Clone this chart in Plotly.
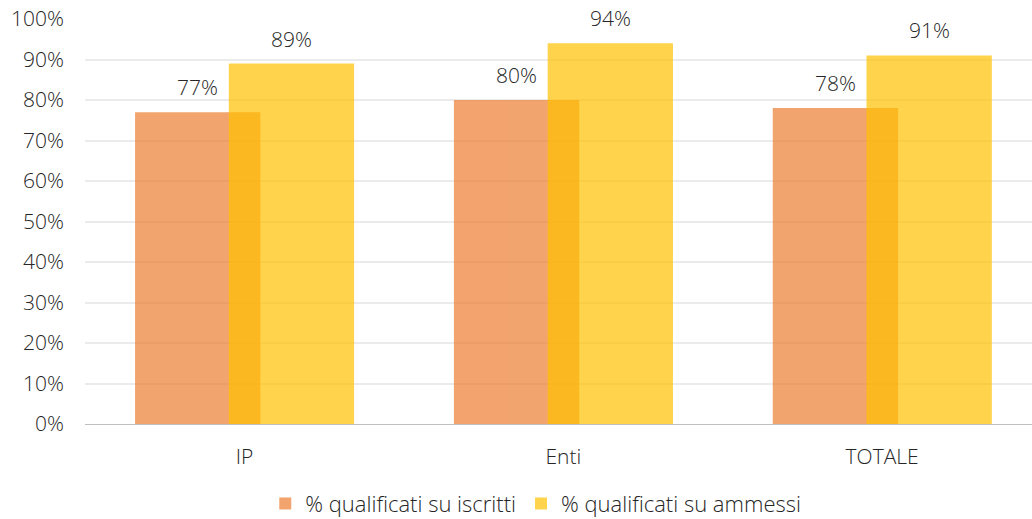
import plotly.graph_objects as go

categories = ["IP", "Enti", "TOTALE"]
iscritti = [77, 80, 78]
ammessi = [89, 94, 91]
series_names = ["% qualificati su iscritti", "% qualificati su ammessi"]
y_ticks = [0, 10, 20, 30, 40, 50, 60, 70, 80, 90, 100]
y_tick_labels = [f"{v}%" for v in y_ticks]

FONT = "'Open Sans', 'Noto Sans', sans-serif"
TXT = "#262626"
W = 0.393
OFFS = [-0.343, -0.049]
PX_PER_CAT = 947 / 2.97

fig = go.Figure()
for vals, name, color, off in [(iscritti, series_names[0], "#ED7D31", OFFS[0]),
                               (ammessi, series_names[1], "#FFC000", OFFS[1])]:
    fig.add_trace(go.Bar(
        x=categories, y=vals, name=name,
        marker=dict(color=color, line=dict(width=0)), opacity=0.7,
        width=W, offset=off,
    ))
    for c, v in zip(categories, vals):
        fig.add_annotation(
            x=c, y=v, xref="x", yref="y", text=f"{v}%", showarrow=False,
            yanchor="bottom", xanchor="center",
            xshift=(off + W / 2) * PX_PER_CAT, yshift=9,
            font=dict(size=21, color=TXT, family=FONT, weight=300),
        )

fig.update_layout(
    width=1032, height=519,
    barmode="overlay",
    paper_bgcolor="white", plot_bgcolor="white",
    margin=dict(l=85, r=0, t=19, b=95),
    font=dict(family=FONT, size=21, color=TXT, weight=300),
    showlegend=True,
    legend=dict(orientation="h", x=0.476, xanchor="center",
                yref="container", y=0.07, yanchor="top",
                font=dict(size=22, color=TXT, family=FONT, weight=300),
                traceorder="normal"),
    xaxis=dict(range=[-0.5, 2.47], showgrid=False, showline=True, automargin=False,
               linecolor="#BFBFBF", linewidth=1, ticks="",
               tickfont=dict(size=21, color=TXT, weight=300), ticklabelstandoff=14),
    yaxis=dict(range=[0, 100], tickvals=y_ticks, ticktext=y_tick_labels, automargin=False,
               showgrid=True, gridcolor="#EBEBEB", gridwidth=1.5,
               zeroline=False, showline=False, ticks="",
               tickfont=dict(size=21, color=TXT, weight=300), ticklabelstandoff=20),
)

fig.write_html("out.html", config={"displayModeBar": False},
               post_script="document.body.style.margin='0';")
